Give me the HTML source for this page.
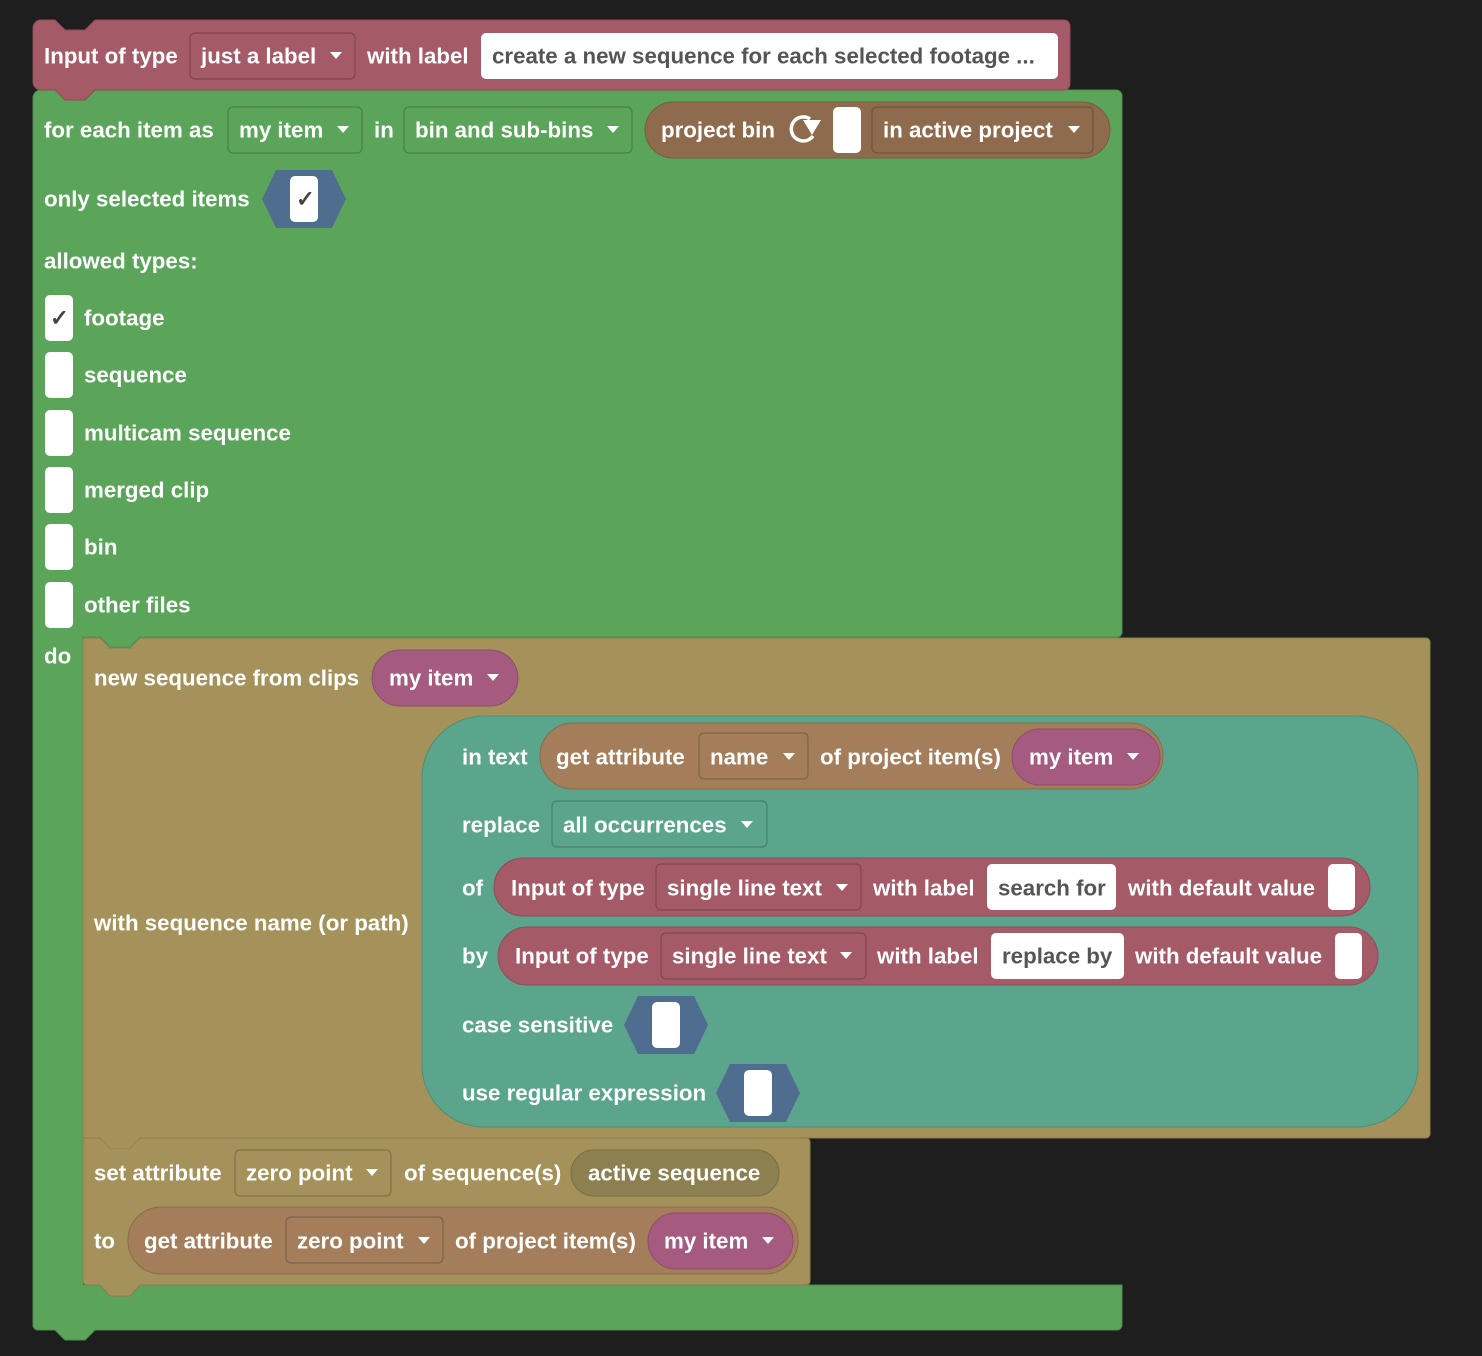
<!DOCTYPE html>
<html><head><meta charset="utf-8"><style>
html,body{margin:0;padding:0;background:#1e1e1e;}
svg{display:block}
text{font-family:"Liberation Sans",Arial,sans-serif;font-weight:bold;font-size:22.3px;fill:#fff;dominant-baseline:central}
.dk{fill:#555}
.fd{fill:none;stroke:rgba(0,0,0,0.22);stroke-width:1.2}
.wb{fill:#fff}
</style></head><body>
<svg width="1482" height="1356" viewBox="0 0 1482 1356" xmlns="http://www.w3.org/2000/svg">
<rect width="1482" height="1356" fill="#1e1e1e"/>

<!-- GREEN for-each block -->
<path d="M33,98 a8,8 0 0 1 8,-8 H1116 a6,6 0 0 1 6,6 V632 a5,5 0 0 1 -5,5 H140 L130,647 H110 L100,637 H83 V1285 H1122 V1325 a5,5 0 0 1 -5,5 H95 L85,1340 H65 L55,1330 H38 a5,5 0 0 1 -5,-5 Z" fill="#5ba55b" stroke="#4c8f4c" stroke-width="1"/>

<!-- RED header block -->
<path d="M33,28 a8,8 0 0 1 8,-8 H55 L65,30 H85 L95,20 H1064 a6,6 0 0 1 6,6 V84 a6,6 0 0 1 -6,6 H95 L85,100 H65 L55,90 H41 a8,8 0 0 1 -8,-8 Z" fill="#a55b67" stroke="#8e4c57" stroke-width="1"/>
<text x="44" y="56">Input of type</text>
<rect class="fd" x="190" y="33" width="165" height="46" rx="5"/>
<text x="201" y="56">just a label</text>
<polygon points="330,52 342,52 336,59" fill="#fff"/>
<text x="367" y="56">with label</text>
<rect class="wb" x="481" y="33" width="577" height="46" rx="5"/>
<text class="dk" x="492" y="56">create a new sequence for each selected footage ...</text>

<!-- green row1 -->
<text x="44" y="130">for each item as</text>
<rect class="fd" x="228" y="107" width="134" height="46" rx="5"/>
<text x="239" y="130">my item</text>
<polygon points="337,126 349,126 343,133" fill="#fff"/>
<text x="374" y="130">in</text>
<rect class="fd" x="404" y="107" width="228" height="46" rx="5"/>
<text x="415" y="130">bin and sub-bins</text>
<polygon points="607,126 619,126 613,133" fill="#fff"/>
<rect x="645" y="102" width="465" height="56" rx="28" fill="#8d6b4c" stroke="#7a5b3f" stroke-width="1"/>
<text x="661" y="130">project bin</text>
<path d="M810,119 a12,12 0 1 0 3,17" fill="none" stroke="#fff" stroke-width="3.5"/>
<polygon points="803,120 821,120 812,135" fill="#fff"/>
<rect class="wb" x="833" y="107" width="28" height="46" rx="5"/>
<rect class="fd" x="872" y="107" width="221" height="46" rx="5"/>
<text x="883" y="130">in active project</text>
<polygon points="1068,126 1080,126 1074,133" fill="#fff"/>

<!-- only selected -->
<text x="44" y="199">only selected items</text>
<polygon points="262,199 276,170 332,170 346,199 332,228 276,228" fill="#4f6d8f"/>
<rect class="wb" x="290" y="176" width="28" height="46" rx="5"/>
<text x="296" y="199" style="fill:#444">✓</text>

<text x="44" y="261">allowed types:</text>
<rect class="wb" x="45" y="295" width="28" height="46" rx="5"/>
<text x="50" y="318" style="fill:#444">✓</text>
<text x="84" y="318">footage</text>
<rect class="wb" x="45" y="352" width="28" height="46" rx="5"/>
<text x="84" y="375">sequence</text>
<rect class="wb" x="45" y="410" width="28" height="46" rx="5"/>
<text x="84" y="433">multicam sequence</text>
<rect class="wb" x="45" y="467" width="28" height="46" rx="5"/>
<text x="84" y="490">merged clip</text>
<rect class="wb" x="45" y="524" width="28" height="46" rx="5"/>
<text x="84" y="547">bin</text>
<rect class="wb" x="45" y="582" width="28" height="46" rx="5"/>
<text x="84" y="605">other files</text>
<text x="44" y="656">do</text>

<!-- OLIVE new sequence block -->
<path d="M83,638 H100 L110,648 H130 L140,638 H1426 a4,4 0 0 1 4,4 V1134 a4,4 0 0 1 -4,4 H140 L130,1148 H110 L100,1138 H83 Z" fill="#a5925b" stroke="#8d7c4c" stroke-width="1"/>
<text x="94" y="678">new sequence from clips</text>
<rect x="372" y="650" width="146" height="56" rx="28" fill="#a55b80" stroke="#8d4c6c" stroke-width="1"/>
<text x="389" y="678">my item</text>
<polygon points="487,674 499,674 493,681" fill="#fff"/>
<text x="94" y="923">with sequence name (or path)</text>

<!-- TEAL replace block -->
<rect x="422" y="716" width="996" height="411" rx="62" fill="#5ba58c" stroke="#4c8e77" stroke-width="1"/>
<text x="462" y="757">in text</text>
<rect x="540" y="723" width="623" height="66" rx="33" fill="#a47d5a" stroke="#8c6a4b" stroke-width="1"/>
<text x="556" y="757">get attribute</text>
<rect class="fd" x="699" y="733" width="109" height="46" rx="5"/>
<text x="710" y="757">name</text>
<polygon points="783,753 795,753 789,760" fill="#fff"/>
<text x="820" y="757">of project item(s)</text>
<rect x="1012" y="729" width="148" height="56" rx="28" fill="#a55b80" stroke="#8d4c6c" stroke-width="1"/>
<text x="1029" y="757">my item</text>
<polygon points="1127,753 1139,753 1133,760" fill="#fff"/>

<text x="462" y="825">replace</text>
<rect class="fd" x="552" y="801" width="215" height="46" rx="5"/>
<text x="563" y="825">all occurrences</text>
<polygon points="741,821 753,821 747,828" fill="#fff"/>

<text x="462" y="888">of</text>
<rect x="494" y="858" width="876" height="58" rx="29" fill="#a55b67" stroke="#8e4c57" stroke-width="1"/>
<text x="511" y="888">Input of type</text>
<rect class="fd" x="656" y="864" width="205" height="46" rx="5"/>
<text x="667" y="888">single line text</text>
<polygon points="836,884 848,884 842,891" fill="#fff"/>
<text x="873" y="888">with label</text>
<rect class="wb" x="987" y="864" width="129" height="46" rx="5"/>
<text class="dk" x="998" y="888">search for</text>
<text x="1128" y="888">with default value</text>
<rect class="wb" x="1328" y="864" width="27" height="46" rx="5"/>

<text x="462" y="956">by</text>
<rect x="498" y="927" width="880" height="58" rx="29" fill="#a55b67" stroke="#8e4c57" stroke-width="1"/>
<text x="515" y="956">Input of type</text>
<rect class="fd" x="661" y="933" width="205" height="46" rx="5"/>
<text x="672" y="956">single line text</text>
<polygon points="840,952 852,952 846,959" fill="#fff"/>
<text x="877" y="956">with label</text>
<rect class="wb" x="991" y="933" width="133" height="46" rx="5"/>
<text class="dk" x="1002" y="956">replace by</text>
<text x="1135" y="956">with default value</text>
<rect class="wb" x="1335" y="933" width="27" height="46" rx="5"/>

<text x="462" y="1025">case sensitive</text>
<polygon points="624,1025 638,996 694,996 708,1025 694,1054 638,1054" fill="#4f6d8f"/>
<rect class="wb" x="652" y="1002" width="28" height="46" rx="5"/>
<text x="462" y="1093">use regular expression</text>
<polygon points="716,1093 730,1064 786,1064 800,1093 786,1122 730,1122" fill="#4f6d8f"/>
<rect class="wb" x="744" y="1070" width="28" height="46" rx="5"/>

<!-- SET ATTRIBUTE block -->
<path d="M83,1138 H100 L110,1148 H130 L140,1138 H806 a4,4 0 0 1 4,4 V1281 a4,4 0 0 1 -4,4 H140 L130,1296 H110 L100,1285 H87 a4,4 0 0 1 -4,-4 Z" fill="#a5925b" stroke="#8d7c4c" stroke-width="1"/>
<path d="M101,1139 L110,1148 H130 L139,1139 Z" fill="#a5925b"/>
<text x="94" y="1173">set attribute</text>
<rect class="fd" x="235" y="1150" width="156" height="46" rx="5"/>
<text x="246" y="1173">zero point</text>
<polygon points="366,1169 378,1169 372,1176" fill="#fff"/>
<text x="404" y="1173">of sequence(s)</text>
<rect x="571" y="1150" width="208" height="46" rx="23" fill="#8c7f50" stroke="#7a6e44" stroke-width="1"/>
<text x="588" y="1173">active sequence</text>

<text x="94" y="1241">to</text>
<rect x="128" y="1207" width="670" height="67" rx="33" fill="#a47d5a" stroke="#8c6a4b" stroke-width="1"/>
<text x="144" y="1241">get attribute</text>
<rect class="fd" x="286" y="1217" width="157" height="46" rx="5"/>
<text x="297" y="1241">zero point</text>
<polygon points="418,1237 430,1237 424,1244" fill="#fff"/>
<text x="455" y="1241">of project item(s)</text>
<rect x="648" y="1213" width="145" height="56" rx="28" fill="#a55b80" stroke="#8d4c6c" stroke-width="1"/>
<text x="664" y="1241">my item</text>
<polygon points="762,1237 774,1237 768,1244" fill="#fff"/>
</svg>
</body></html>
